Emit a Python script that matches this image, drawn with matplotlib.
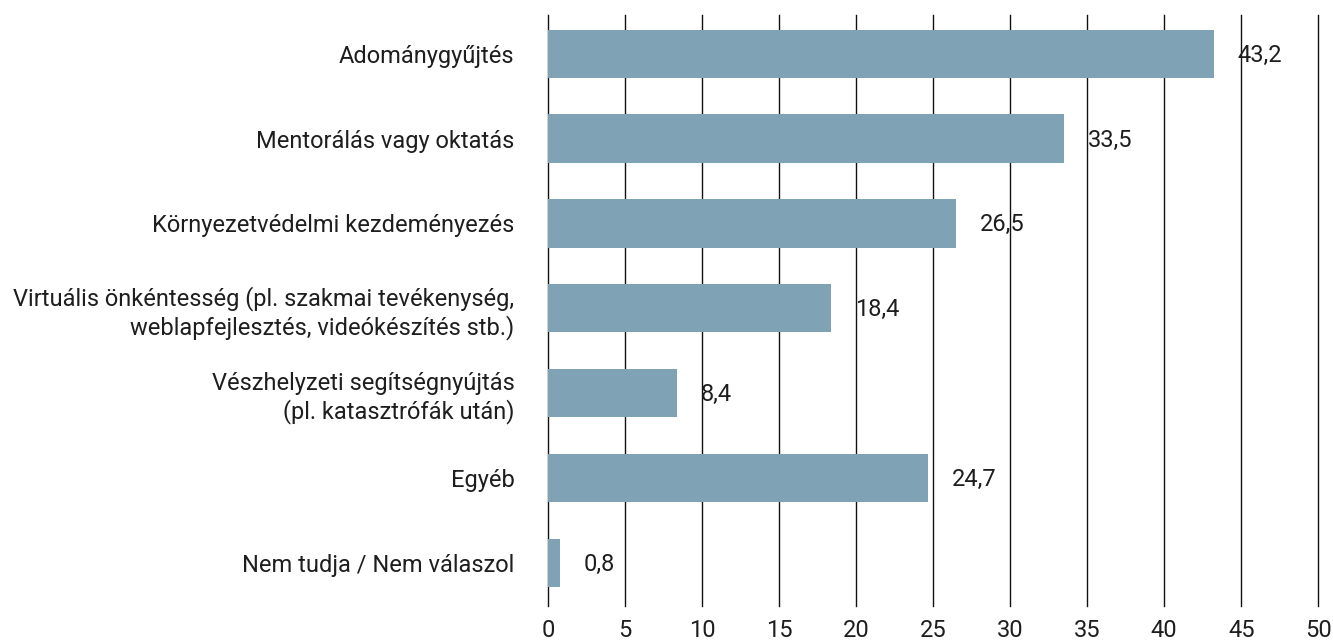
import numpy as np
import matplotlib.pyplot as plt

plt.rcParams['font.family'] = ['Roboto', 'DejaVu Sans']

# ============================================================
#   DATA
# ============================================================
categories = [
    "Adománygyűjtés",
    "Mentorálás vagy oktatás",
    "Környezetvédelmi kezdeményezés",
    "Virtuális önkéntesség (pl. szakmai tevékenység,\nweblapfejlesztés, videókészítés stb.)",
    "Vészhelyzeti segítségnyújtás\n(pl. katasztrófák után)",
    "Egyéb",
    "Nem tudja / Nem válaszol",
]
values = [43.2, 33.5, 26.5, 18.4, 8.4, 24.7, 0.8]
x_ticks = [0, 5, 10, 15, 20, 25, 30, 35, 40, 45, 50]

bar_color = "#7fa3b5"
text_color = "#1e1e1e"
fs = 17

# ============================================================
#   PLOT
# ============================================================
fig = plt.figure(figsize=(13.33, 6.42), dpi=100)
ax = fig.add_axes([0.411, 0.056, 0.578, 0.921])

y = np.arange(len(categories))
ax.barh(y, values, height=0.57, color=bar_color, zorder=2)

for yi, v in zip(y, values):
    ax.annotate(f"{v:.1f}".replace(".", ","), xy=(v, yi), xytext=(17, -1),
                textcoords="offset points", va="center", ha="left",
                fontsize=fs, color=text_color, zorder=3)

ax.set_xlim(0, 50)
ax.set_ylim(6.51, -0.46)
ax.set_xticks(x_ticks)
ax.set_xticklabels([str(t) for t in x_ticks], fontsize=fs, color=text_color)
ax.set_yticks(y)
ax.set_yticklabels(categories, fontsize=fs, color=text_color, ha="right")
ax.tick_params(axis="both", length=0)
ax.tick_params(axis="y", pad=24)
ax.tick_params(axis="x", pad=9)

for t in x_ticks:
    ax.axvline(t, color="#111111", linewidth=1.0, zorder=1, clip_on=False)

for s in ax.spines.values():
    s.set_visible(False)

plt.savefig("out.png", dpi=100)
plt.close()
